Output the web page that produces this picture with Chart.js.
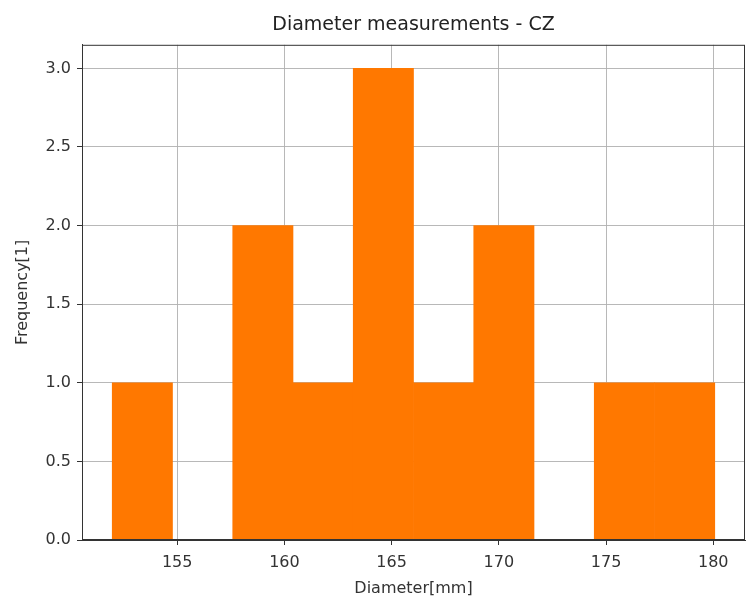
<!DOCTYPE html>
<html>
<head>
<meta charset="utf-8">
<script src="https://cdn.jsdelivr.net/npm/chart.js@4/dist/chart.umd.min.js"></script>
<style>
  html, body { margin: 0; padding: 0; background: #fff; }
  #wrap { width: 746px; height: 601px; }
</style>
</head>
<body>
<div id="wrap"><canvas id="chart" width="746" height="601"></canvas></div>
<script>
// histogram bins
var binEdges = [151.97, 154.78, 157.59, 160.40, 163.21, 166.02, 168.83, 171.64, 174.45, 177.26, 180.07];
var counts = [1, 0, 2, 1, 3, 1, 2, 0, 1, 1];
var xTicks = [155, 160, 165, 170, 175, 180];
var yTicks = [0, 0.5, 1.0, 1.5, 2.0, 2.5, 3.0];

var points = counts.map(function(c, i) {
    return { x: (binEdges[i] + binEdges[i + 1]) / 2, y: c };
});

var gridColor = "rgba(176,176,176,0.9)";
var axisColor = "#333";
var fontFamily = "'DejaVu Sans', sans-serif";

// matplotlib style frame round the plot
var framePlugin = {
    id: "frame",
    afterDraw: function(chart) {
        var a = chart.chartArea, ctx = chart.ctx;
        ctx.save();
        ctx.strokeStyle = axisColor;
        ctx.lineWidth = 1;
        ctx.strokeRect(a.left + 0.5, a.top + 0.5, a.right - a.left - 1, a.bottom - a.top - 1);
        ctx.restore();
    }
};

Chart.defaults.font.family = fontFamily;
Chart.defaults.color = "#333";

new Chart(document.getElementById("chart"), {
    type: "bar",
    data: {
        datasets: [{
            data: points,
            backgroundColor: "#ff7800",
            borderWidth: 0,
            barPercentage: 1,
            categoryPercentage: 1
        }]
    },
    options: {
        responsive: false,
        animation: false,
        layout: { padding: { right: 1, top: 0, left: 0, bottom: 0 } },
        plugins: {
            legend: { display: false },
            tooltip: { enabled: false },
            title: {
                display: true,
                text: "Diameter measurements - CZ",
                fullSize: false,
                color: "#222",
                font: { size: 19, weight: "normal" },
                padding: { top: 14, bottom: 8 }
            }
        },
        scales: {
            x: {
                type: "linear",
                min: 150.56,
                max: 181.48,
                offset: false,
                z: 1,
                afterFit: function(s) { s.height = 61; },
                afterBuildTicks: function(s) {
                    s.ticks = xTicks.map(function(v) { return { value: v }; });
                },
                grid: { offset: false, color: gridColor, tickColor: axisColor, tickLength: 5, lineWidth: 1 },
                border: { color: axisColor },
                ticks: { font: { size: 16 }, padding: 8, maxRotation: 0 },
                title: { display: true, text: "Diameter[mm]", font: { size: 16 }, padding: { top: 2, bottom: 3 } }
            },
            y: {
                min: 0,
                max: 3.15,
                z: 1,
                afterFit: function(s) { s.width = 82; },
                afterBuildTicks: function(s) {
                    s.ticks = yTicks.map(function(v) { return { value: v }; });
                },
                grid: { color: gridColor, tickColor: axisColor, tickLength: 5, lineWidth: 1 },
                border: { color: axisColor },
                ticks: {
                    font: { size: 16 },
                    padding: 6,
                    callback: function(v) { return v.toFixed(1); }
                },
                title: { display: true, text: "Frequency[1]", font: { size: 16 }, padding: { top: 13, bottom: 0 } }
            }
        }
    },
    plugins: [framePlugin]
});
</script>
</body>
</html>
